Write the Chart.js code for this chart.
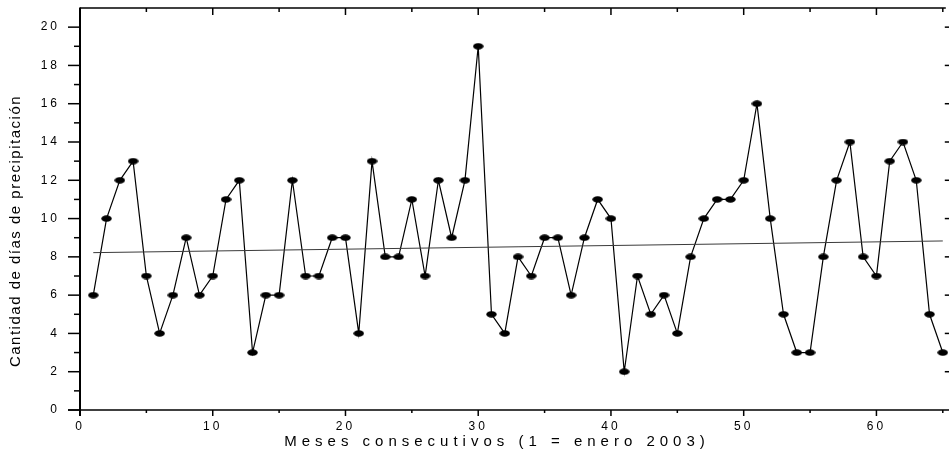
<!DOCTYPE html>
<html>
<head>
<meta charset="utf-8">
<script src="https://cdn.jsdelivr.net/npm/chart.js@4/dist/chart.umd.min.js"></script>
<style>
  html, body { margin: 0; padding: 0; background: #fff; }
  #wrap { width: 949px; height: 456px; }
</style>
</head>
<body>
<div id="wrap"><canvas id="c" width="949" height="456"></canvas></div>
<script>
// Monthly count of days with precipitation, month 1 = January 2003
const months = [
  1, 2, 3, 4, 5, 6, 7, 8, 9, 10,
  11, 12, 13, 14, 15, 16, 17, 18, 19, 20,
  21, 22, 23, 24, 25, 26, 27, 28, 29, 30,
  31, 32, 33, 34, 35, 36, 37, 38, 39, 40,
  41, 42, 43, 44, 45, 46, 47, 48, 49, 50,
  51, 52, 53, 54, 55, 56, 57, 58, 59, 60,
  61, 62, 63, 64, 65
];
const rainyDays = [
  6, 10, 12, 13, 7, 4, 6, 9, 6, 7,
  11, 12, 3, 6, 6, 12, 7, 7, 9, 9,
  4, 13, 8, 8, 11, 7, 12, 9, 12, 19,
  5, 4, 8, 7, 9, 9, 6, 9, 11, 10,
  2, 7, 5, 6, 4, 8, 10, 11, 11, 12,
  16, 10, 5, 3, 3, 8, 12, 14, 8, 7,
  13, 14, 12, 5, 3
];
// Linear trend line end points
const trendMonths = [1, 65];
const trendDays = [8.22, 8.83];

const xMajorTicks = [0, 10, 20, 30, 40, 50, 60];
const xMinorTicks = [5, 15, 25, 35, 45, 55, 65];
const yMajorTicks = [0, 2, 4, 6, 8, 10, 12, 14, 16, 18, 20];
const yMinorTicks = [1, 3, 5, 7, 9, 11, 13, 15, 17, 19];

const xTitle = 'Meses consecutivos (1 = enero 2003)';
const yTitle = 'Cantidad de días de precipitación';

const FONT = '"Liberation Sans", Arial, sans-serif';

// Filled black ellipse used as the point marker
function ellipseMarker(w, h) {
  const c = document.createElement('canvas');
  c.width = w; c.height = h;
  const g = c.getContext('2d');
  g.fillStyle = '#000';
  g.beginPath();
  g.ellipse(w / 2, h / 2, w / 2 - 0.3, h / 2 - 0.3, 0, 0, Math.PI * 2);
  g.fill();
  return c;
}
const marker = ellipseMarker(11, 7);

// Axis frame, tick marks, tick labels and titles
const framePlugin = {
  id: 'frame',
  afterDraw(chart) {
    const ctx = chart.ctx;
    const x = chart.scales.x, y = chart.scales.y;
    const a = chart.chartArea;
    const bottom = y.getPixelForValue(0);
    const top = a.top;
    const left = x.getPixelForValue(0);
    const right = x.getPixelForValue(65);
    ctx.save();
    ctx.strokeStyle = '#000';
    ctx.lineCap = 'butt';

    // left axis
    ctx.lineWidth = 2;
    ctx.beginPath(); ctx.moveTo(left, top - 0.5); ctx.lineTo(left, bottom + 6); ctx.stroke();
    // bottom axis
    ctx.lineWidth = 1.6;
    ctx.beginPath(); ctx.moveTo(left - 12, bottom); ctx.lineTo(chart.width, bottom); ctx.stroke();
    // top border
    ctx.lineWidth = 1.5;
    ctx.beginPath(); ctx.moveTo(left, top); ctx.lineTo(right + 3, top); ctx.stroke();

    ctx.lineWidth = 1.5;
    // left ticks (outward)
    yMajorTicks.forEach(v => {
      const py = y.getPixelForValue(v);
      ctx.beginPath(); ctx.moveTo(left - 12, py); ctx.lineTo(left, py); ctx.stroke();
    });
    yMinorTicks.forEach(v => {
      const py = y.getPixelForValue(v);
      ctx.beginPath(); ctx.moveTo(left - 6, py); ctx.lineTo(left, py); ctx.stroke();
    });
    // right ticks (outward, majors only)
    yMajorTicks.forEach(v => {
      if (v === 0) return;
      const py = y.getPixelForValue(v);
      ctx.beginPath(); ctx.moveTo(right + 2, py); ctx.lineTo(right + 7, py); ctx.stroke();
    });
    // bottom ticks (outward)
    xMajorTicks.forEach(v => {
      const px = x.getPixelForValue(v);
      ctx.beginPath(); ctx.moveTo(px, bottom); ctx.lineTo(px, bottom + 6); ctx.stroke();
    });
    xMinorTicks.forEach(v => {
      const px = x.getPixelForValue(v);
      ctx.beginPath(); ctx.moveTo(px, bottom); ctx.lineTo(px, bottom + 3); ctx.stroke();
    });
    // top ticks (inward)
    xMajorTicks.forEach(v => {
      if (v === 0) return;
      const px = x.getPixelForValue(v);
      ctx.beginPath(); ctx.moveTo(px, top); ctx.lineTo(px, top + 7); ctx.stroke();
    });
    xMinorTicks.forEach(v => {
      const px = x.getPixelForValue(v);
      ctx.beginPath(); ctx.moveTo(px, top); ctx.lineTo(px, top + 4); ctx.stroke();
    });

    // tick labels
    ctx.fillStyle = '#000';
    ctx.font = '12px ' + FONT;
    ctx.letterSpacing = '3px';
    ctx.textBaseline = 'middle';
    ctx.textAlign = 'right';
    yMajorTicks.forEach(v => {
      ctx.fillText(String(v), left - 20, y.getPixelForValue(v));
    });
    ctx.textAlign = 'center';
    xMajorTicks.forEach(v => {
      ctx.fillText(String(v), x.getPixelForValue(v), bottom + 17);
    });

    // x title
    ctx.font = '15px ' + FONT;
    ctx.letterSpacing = '5px';
    ctx.fillText(xTitle, 497, bottom + 32);

    // y title
    ctx.letterSpacing = '1.5px';
    ctx.translate(16, 231);
    ctx.rotate(-Math.PI / 2);
    ctx.fillText(yTitle, 0, 0);
    ctx.restore();
  }
};

new Chart(document.getElementById('c'), {
  type: 'line',
  data: {
    datasets: [
      {
        data: trendMonths.map((m, i) => ({ x: m, y: trendDays[i] })),
        borderColor: '#3a3a3a',
        borderWidth: 1,
        pointRadius: 0,
        tension: 0,
        clip: false
      },
      {
        data: months.map((m, i) => ({ x: m, y: rainyDays[i] })),
        borderColor: '#000',
        borderWidth: 1.2,
        pointStyle: marker,
        pointRadius: 5,
        pointBackgroundColor: '#000',
        tension: 0,
        clip: false
      }
    ]
  },
  options: {
    responsive: false,
    devicePixelRatio: 1,
    animation: false,
    layout: { padding: { left: 80, right: 6, top: 8, bottom: 46 } },
    scales: {
      x: { type: 'linear', min: 0, max: 65, display: false },
      y: { type: 'linear', min: 0, max: 21, display: false }
    },
    plugins: {
      legend: { display: false },
      tooltip: { enabled: false }
    }
  },
  plugins: [framePlugin]
});
</script>
</body>
</html>
